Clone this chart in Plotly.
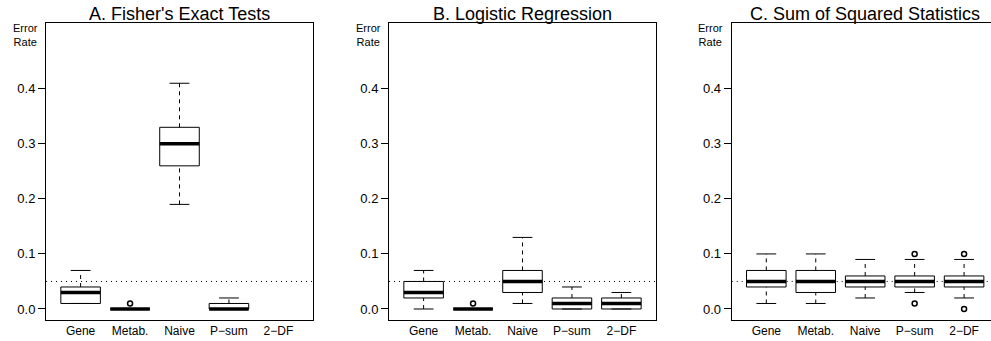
import plotly.graph_objects as go

# ---- data ----
categories = ["Gene", "Metab.", "Naive", "P\u2212sum", "2\u2212DF"]
panel_titles = ["A. Fisher's Exact Tests", "B. Logistic Regression", "C. Sum of Squared Statistics"]
y_tickvals = [0.0, 0.1, 0.2, 0.3, 0.4]
y_ticktext = ["0.0", "0.1", "0.2", "0.3", "0.4"]
ref_level = 0.05

# Panel A (None = no data)
lo_A = [0.01, 0.00, 0.19, 0.00, None]
q1_A = [0.01, 0.00, 0.26, 0.00, None]
med_A = [0.03, 0.00, 0.30, 0.00, None]
q3_A = [0.04, 0.00, 0.33, 0.01, None]
hi_A = [0.07, 0.00, 0.41, 0.02, None]
out_A = [[], [0.01], [], [], []]

# Panel B
lo_B = [0.00, 0.00, 0.01, 0.00, 0.00]
q1_B = [0.02, 0.00, 0.03, 0.00, 0.00]
med_B = [0.03, 0.00, 0.05, 0.01, 0.01]
q3_B = [0.05, 0.00, 0.07, 0.02, 0.02]
hi_B = [0.07, 0.00, 0.13, 0.04, 0.03]
out_B = [[], [0.01], [], [], []]

# Panel C
lo_C = [0.01, 0.01, 0.02, 0.03, 0.02]
q1_C = [0.04, 0.03, 0.04, 0.04, 0.04]
med_C = [0.05, 0.05, 0.05, 0.05, 0.05]
q3_C = [0.07, 0.07, 0.06, 0.06, 0.06]
hi_C = [0.10, 0.10, 0.09, 0.09, 0.09]
out_C = [[], [], [], [0.10, 0.01], [0.10, 0.00]]

panels = [
    (lo_A, q1_A, med_A, q3_A, hi_A, out_A),
    (lo_B, q1_B, med_B, q3_B, hi_B, out_B),
    (lo_C, q1_C, med_C, q3_C, hi_C, out_C),
]

# ---- layout geometry ----
W, H = 991, 341
FONT = "Liberation Sans, Arial, sans-serif"
plot_left_px = [46, 389, 731.7]
plot_w_px = 267
x_full = [0.3, 5.7]
y_range = [-0.02, 0.52]
ydom = [1 - 320 / H, 1 - 22.7 / H]
BOXW = 0.4   # half box width
CAPW = 0.2   # half staple width

fig = go.Figure()

for p, (lo, q1, med, q3, hi, outs) in enumerate(panels):
    xa = "x" if p == 0 else f"x{p + 1}"
    ya = "y" if p == 0 else f"y{p + 1}"
    pos = list(range(1, len(categories) + 1))

    # dotted reference line
    fig.add_trace(go.Scatter(x=[x_full[0], x_full[1]], y=[ref_level, ref_level], mode="lines",
                             line=dict(color="black", width=1, dash="1px,4px"),
                             xaxis=xa, yaxis=ya, hoverinfo="skip", showlegend=False))
    for i, xi in enumerate(pos):
        if med[i] is None:
            continue
        # box body
        fig.add_trace(go.Scatter(
            x=[xi - BOXW, xi + BOXW, xi + BOXW, xi - BOXW, xi - BOXW],
            y=[q1[i], q1[i], q3[i], q3[i], q1[i]],
            mode="lines", fill="toself", fillcolor="white",
            line=dict(color="black", width=1), xaxis=xa, yaxis=ya,
            hoverinfo="skip", showlegend=False))
        # whiskers (dashed)
        fig.add_trace(go.Scatter(
            x=[xi, xi, None, xi, xi], y=[q3[i], hi[i], None, lo[i], q1[i]],
            mode="lines", line=dict(color="black", width=1, dash="4px,4px"),
            xaxis=xa, yaxis=ya, hoverinfo="skip", showlegend=False))
        # staples
        fig.add_trace(go.Scatter(
            x=[xi - CAPW, xi + CAPW, None, xi - CAPW, xi + CAPW],
            y=[hi[i], hi[i], None, lo[i], lo[i]],
            mode="lines", line=dict(color="black", width=1),
            xaxis=xa, yaxis=ya, hoverinfo="skip", showlegend=False))
        # median
        fig.add_trace(go.Scatter(
            x=[xi - BOXW, xi + BOXW], y=[med[i], med[i]],
            mode="lines", line=dict(color="black", width=3.5),
            xaxis=xa, yaxis=ya, hoverinfo="skip", showlegend=False))
        # outliers
        if outs[i]:
            fig.add_trace(go.Scatter(
                x=[xi] * len(outs[i]), y=outs[i], mode="markers",
                marker=dict(symbol="circle-open", size=5, color="black", line=dict(width=1.5)),
                xaxis=xa, yaxis=ya, hoverinfo="skip", showlegend=False))

layout = dict(width=W, height=H, margin=dict(l=0, r=0, t=0, b=0),
              paper_bgcolor="white", plot_bgcolor="white", showlegend=False,
              font=dict(family=FONT, color="black"))

annotations = []
for p in range(3):
    left = plot_left_px[p]
    right = left + plot_w_px
    d0 = left / W
    d1 = min(right, W) / W
    visible_w = min(right, W) - left
    xr = [x_full[0], x_full[0] + (x_full[1] - x_full[0]) * visible_w / plot_w_px]
    xk = "xaxis" if p == 0 else f"xaxis{p + 1}"
    yk = "yaxis" if p == 0 else f"yaxis{p + 1}"
    layout[xk] = dict(domain=[d0, d1], range=xr, showgrid=False, zeroline=False,
                      showline=True, mirror=True, linecolor="black", linewidth=1,
                      tickvals=list(range(1, 6)), ticktext=categories, ticks="",
                      tickfont=dict(size=12, family=FONT, color="black"),
                      anchor="y" if p == 0 else f"y{p + 1}", fixedrange=True)
    layout[yk] = dict(domain=ydom, range=y_range, showgrid=False, zeroline=False,
                      showline=True, mirror=(right <= W), linecolor="black", linewidth=1,
                      tickvals=y_tickvals, ticktext=y_ticktext, ticks="outside",
                      ticklen=7, tickwidth=1, tickcolor="black",
                      tickfont=dict(size=13, family=FONT, color="black"),
                      anchor="x" if p == 0 else f"x{p + 1}", fixedrange=True)
    annotations.append(dict(text=panel_titles[p], xref="paper", yref="paper",
                            x=(left + right) / 2 / W, y=1 - 14 / H,
                            xanchor="center", yanchor="middle", showarrow=False,
                            font=dict(size=18, family=FONT, color="black")))
    annotations.append(dict(text="Error<br>Rate", xref="paper", yref="paper",
                            x=(left - 21) / W, y=1 - 35 / H,
                            xanchor="center", yanchor="middle", showarrow=False,
                            font=dict(size=11, family=FONT, color="black")))

layout["annotations"] = annotations
fig.update_layout(**layout)
fig.write_html("out.html")
